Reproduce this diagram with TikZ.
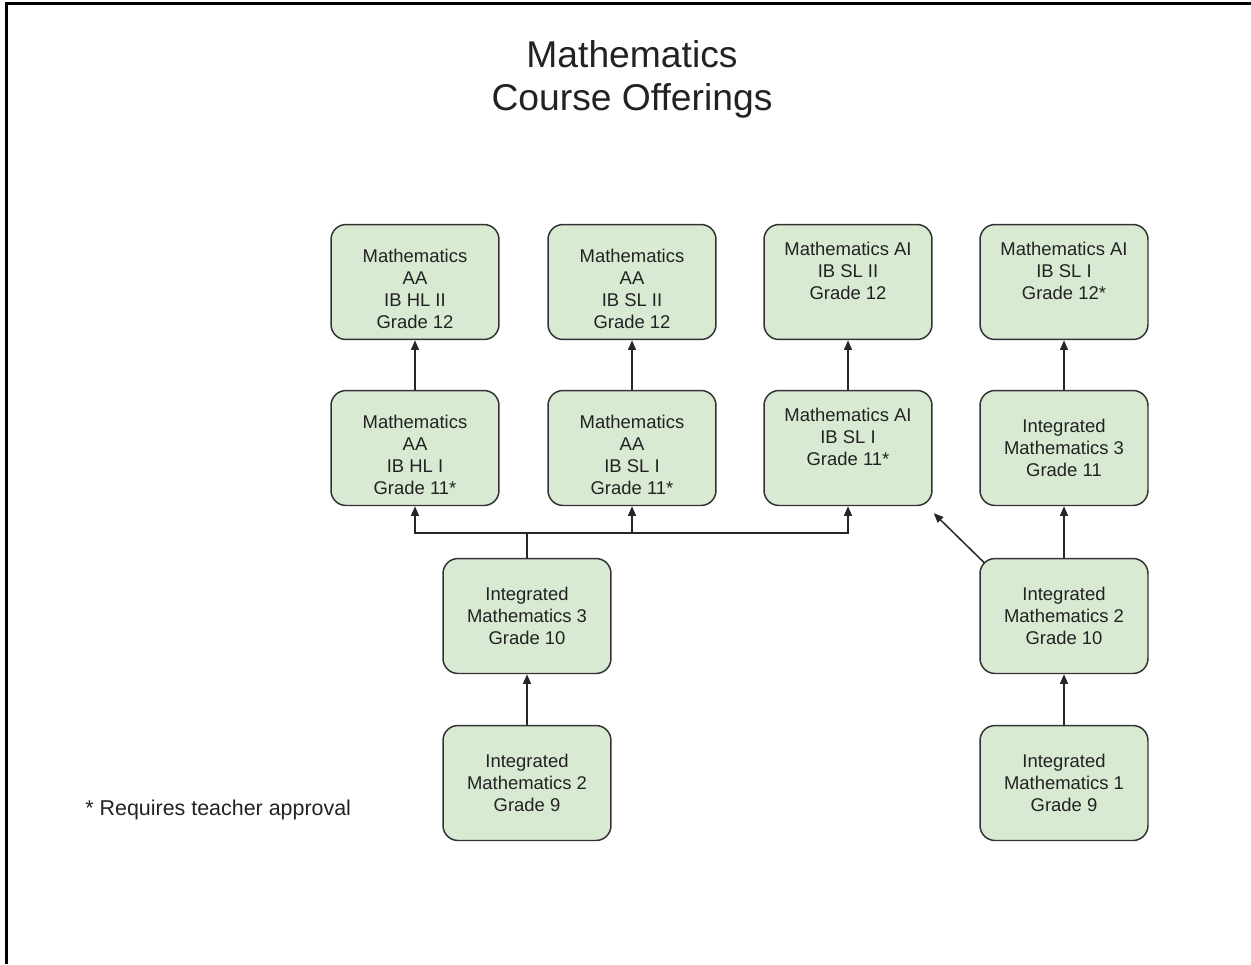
\documentclass[tikz,border=0pt]{standalone}
\usepackage{fontspec}
\setmainfont{Liberation Sans}
\usetikzlibrary{arrows.meta}

\definecolor{boxgreen}{HTML}{D9EAD3}
\definecolor{boxline}{HTML}{333333}
\definecolor{ink}{HTML}{222222}

% pushes a four line text a little lower in its box
\newcommand{\lowtop}{\rule{0pt}{15.5pt}}

\begin{document}
\begin{tikzpicture}[x=0.02cm,y=-0.02cm,
    course/.style={draw=boxline, line width=0.85pt, fill=boxgreen, rounded corners=0.3cm,
        minimum width=3.36cm, minimum height=2.3cm, inner sep=0pt, align=center,
        text=ink, font=\fontsize{10.5}{12.5}\selectfont},
    link/.style={line width=0.85pt, draw=black!85, -{Triangle[length=5.5pt,width=4.5pt]}}]
    \useasboundingbox (0,0) rectangle (1251,964);

    % Frame
    \draw[line width=1.2pt] (6.5,964) -- (6.5,3.5) -- (1251,3.5);

    % Title
    \node[align=center, text=ink, font=\fontsize{21.2}{24.5}\selectfont] (title) at (632,79) {Mathematics\\Course Offerings};

    % Grade 12
    \node[course] (aahltwo) at (415,282) {\lowtop Mathematics\\AA\\IB HL II\\Grade 12};
    \node[course] (aasltwo) at (632,282) {\lowtop Mathematics\\AA\\IB SL II\\Grade 12};
    \node[course] (aisltwo) at (848,282) {Mathematics AI\\IB SL II\\Grade 12\\\mbox{}};
    \node[course] (aislone12) at (1064,282) {Mathematics AI\\IB SL I\\Grade 12*\\\mbox{}};

    % Grade 11
    \node[course] (aahlone) at (415,448) {\lowtop Mathematics\\AA\\IB HL I\\Grade 11*};
    \node[course] (aaslone) at (632,448) {\lowtop Mathematics\\AA\\IB SL I\\Grade 11*};
    \node[course] (aislone) at (848,448) {Mathematics AI\\IB SL I\\Grade 11*\\\mbox{}};
    \node[course] (imthree11) at (1064,448) {Integrated\\Mathematics 3\\Grade 11};

    % Grade 10
    \node[course] (imthree10) at (527,616) {Integrated\\Mathematics 3\\Grade 10};
    \node[course] (imtwo10) at (1064,616) {Integrated\\Mathematics 2\\Grade 10};

    % Grade 9
    \node[course] (imtwo9) at (527,783) {Integrated\\Mathematics 2\\Grade 9};
    \node[course] (imone9) at (1064,783) {Integrated\\Mathematics 1\\Grade 9};

    % Note
    \node[anchor=west, inner sep=0pt, text=ink, font=\fontsize{12.2}{14.5}\selectfont] (note) at (85,810) {* Requires teacher approval};

    % Grade 11 to Grade 12
    \draw[link] (aahlone) -- (aahltwo);
    \draw[link] (aaslone) -- (aasltwo);
    \draw[link] (aislone) -- (aisltwo);
    \draw[link] (imthree11) -- (aislone12);

    % Integrated Mathematics 3 branches
    \coordinate (bus) at (527,533);
    \draw[line width=0.85pt, draw=black!85] (imthree10.north) -- (bus);
    \draw[link] (bus) -| (aahlone.south);
    \draw[link] (bus) -| (aaslone.south);
    \draw[link] (bus) -| (aislone.south);

    % Integrated Mathematics 2 branches
    \draw[link] ([shift={(5,5)}]imtwo10.north west) -- ([shift={(1,7)}]aislone.south east);
    \draw[link] (imtwo10) -- (imthree11);

    % Grade 9 to Grade 10
    \draw[link] (imtwo9) -- (imthree10);
    \draw[link] (imone9) -- (imtwo10);
\end{tikzpicture}
\end{document}
